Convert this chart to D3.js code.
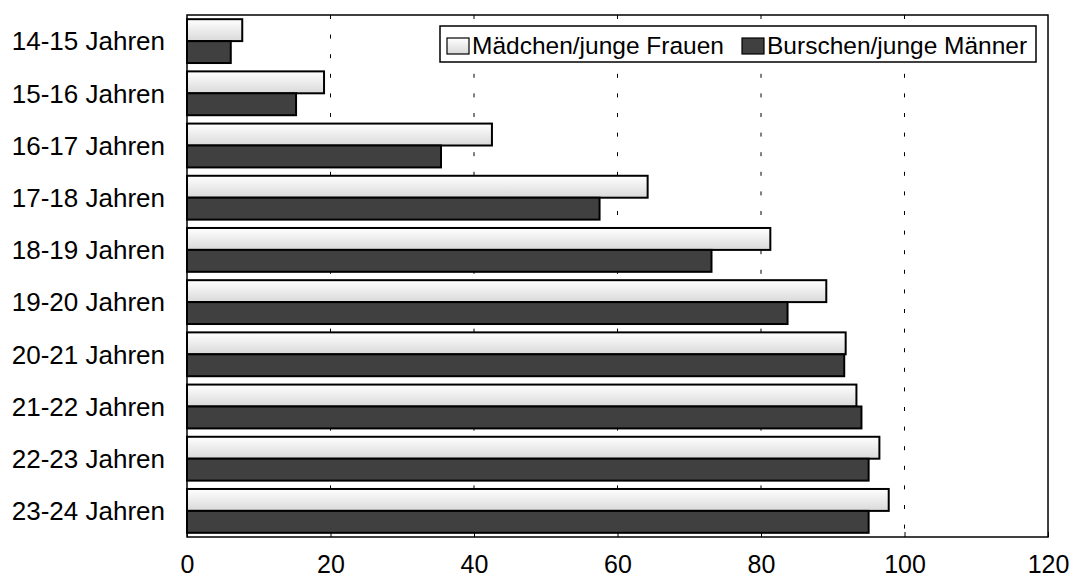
<!DOCTYPE html>
<html>
<head>
<meta charset="utf-8">
<script src="https://cdn.jsdelivr.net/npm/d3@7"></script>
<style>
  body { margin: 0; background: #fff; }
  text { font-family: "Liberation Sans", Arial, sans-serif; fill: #000; }
</style>
</head>
<body>
<div id="chart"></div>
<script>
// data
var categories = ["14-15 Jahren", "15-16 Jahren", "16-17 Jahren", "17-18 Jahren", "18-19 Jahren",
                  "19-20 Jahren", "20-21 Jahren", "21-22 Jahren", "22-23 Jahren", "23-24 Jahren"];
var seriesNames = ["Mädchen/junge Frauen", "Burschen/junge Männer"];
var girls = [7.7, 19.1, 42.5, 64.2, 81.3, 89.1, 91.8, 93.3, 96.5, 97.8];
var boys = [6.1, 15.2, 35.4, 57.5, 73.1, 83.7, 91.6, 94.0, 95.0, 95.0];
var xTicks = [0, 20, 40, 60, 80, 100, 120];

var width = 1074, height = 577;
var margin = {top: 15, right: 26, bottom: 40, left: 187};
var w = width - margin.left - margin.right;
var h = height - margin.top - margin.bottom;

var svg = d3.select("#chart").append("svg")
    .attr("width", width)
    .attr("height", height);

var defs = svg.append("defs");
var grad = defs.append("linearGradient")
    .attr("id", "lightGrad")
    .attr("x1", 0).attr("y1", 0).attr("x2", 0).attr("y2", 1);
grad.append("stop").attr("offset", "0%").attr("stop-color", "#ffffff");
grad.append("stop").attr("offset", "100%").attr("stop-color", "#d9d9d9");

var g = svg.append("g")
    .attr("transform", "translate(" + margin.left + "," + margin.top + ")");

var x = d3.scaleLinear().domain([0, 120]).range([0, w]);
var y0 = d3.scaleBand().domain(categories).range([0, h]).paddingInner(0.16).paddingOuter(0.08);
var y1 = d3.scaleBand().domain(seriesNames).range([0, y0.bandwidth()]);

// dashed grid lines
g.selectAll(".grid")
    .data(xTicks.filter(function(d) { return d > 0 && d < 120; }))
    .enter().append("line")
    .attr("class", "grid")
    .attr("x1", function(d) { return x(d); })
    .attr("x2", function(d) { return x(d); })
    .attr("y1", 0)
    .attr("y2", h)
    .attr("stroke", "#000")
    .attr("stroke-width", 1)
    .attr("stroke-dasharray", "4,15.6");

// bars
var rows = categories.map(function(c, i) {
    return {category: c, values: [{s: seriesNames[0], v: girls[i]}, {s: seriesNames[1], v: boys[i]}]};
});

var slice = g.selectAll(".slice")
    .data(rows)
    .enter().append("g")
    .attr("class", "slice")
    .attr("transform", function(d) { return "translate(0," + y0(d.category) + ")"; });

slice.selectAll("rect")
    .data(function(d) { return d.values; })
    .enter().append("rect")
    .attr("x", x(0))
    .attr("y", function(d) { return y1(d.s); })
    .attr("width", function(d) { return x(d.v) - x(0); })
    .attr("height", y1.bandwidth())
    .attr("fill", function(d) { return d.s === seriesNames[0] ? "url(#lightGrad)" : "#404040"; })
    .attr("stroke", "#000")
    .attr("stroke-width", 2);

// frame
g.append("rect")
    .attr("x", 0).attr("y", 0)
    .attr("width", w).attr("height", h)
    .attr("fill", "none")
    .attr("stroke", "#000")
    .attr("stroke-width", 1.5);

// x axis
var xAxis = d3.axisBottom(x).tickValues(xTicks).tickSize(-5).tickPadding(18);
var xg = g.append("g")
    .attr("transform", "translate(0," + h + ")")
    .call(xAxis);
xg.select(".domain").remove();
xg.selectAll("text").style("font-size", "25px").style("font-family", "'Liberation Sans', Arial, sans-serif");
xg.selectAll("line").attr("stroke", "#000");

// category labels
g.selectAll(".cat")
    .data(categories)
    .enter().append("text")
    .attr("class", "cat")
    .attr("x", -22)
    .attr("y", function(d) { return y0(d) + y0.bandwidth() / 2; })
    .attr("dy", "0.36em")
    .attr("text-anchor", "end")
    .style("font-size", "26px")
    .text(function(d) { return d; });

// legend
var legend = svg.append("g").attr("transform", "translate(440,26)");
legend.append("rect")
    .attr("width", 596).attr("height", 36)
    .attr("fill", "#fff")
    .attr("stroke", "#000")
    .attr("stroke-width", 1.5);

var legendX = [7, 302];
var items = legend.selectAll(".item")
    .data(seriesNames)
    .enter().append("g")
    .attr("class", "item")
    .attr("transform", function(d, i) { return "translate(" + legendX[i] + ",0)"; });

items.append("rect")
    .attr("x", 0).attr("y", 12)
    .attr("width", 22).attr("height", 16)
    .attr("fill", function(d, i) { return i === 0 ? "url(#lightGrad)" : "#404040"; })
    .attr("stroke", "#000")
    .attr("stroke-width", 1.2);

items.append("text")
    .attr("x", 25)
    .attr("y", 19)
    .attr("dy", "0.36em")
    .style("font-size", "24.5px")
    .text(function(d) { return d; });
</script>
</body>
</html>
